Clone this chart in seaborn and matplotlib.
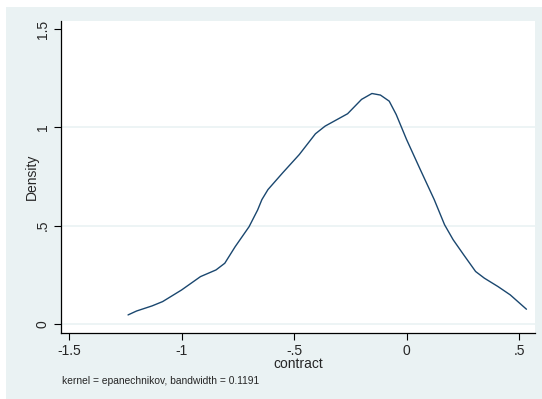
import matplotlib
matplotlib.use("Agg")
import matplotlib.pyplot as plt
import pandas as pd
import seaborn as sns
from matplotlib.patches import Rectangle

# kernel density of "contract"
contract = [-1.238, -1.2, -1.131, -1.084, -1.0, -0.916, -0.847, -0.808, -0.762,
            -0.70, -0.662, -0.643, -0.616, -0.55, -0.477, -0.405, -0.362, -0.262,
            -0.2, -0.154, -0.116, -0.077, -0.046, 0.0, 0.061, 0.123, 0.169,
            0.207, 0.254, 0.307, 0.346, 0.407, 0.461, 0.533]
density = [0.046, 0.066, 0.092, 0.114, 0.173, 0.241, 0.275, 0.309, 0.393,
           0.495, 0.58, 0.633, 0.684, 0.77, 0.862, 0.968, 1.007, 1.07,
           1.143, 1.173, 1.165, 1.134, 1.066, 0.939, 0.786, 0.633, 0.505,
           0.429, 0.352, 0.267, 0.233, 0.19, 0.148, 0.075]

xticks = [-1.5, -1, -0.5, 0, 0.5]
xticklabels = ["-1.5", "-1", "-.5", "0", ".5"]
yticks = [0, 0.5, 1, 1.5]
yticklabels = ["0", ".5", "1", "1.5"]
gridlines = [0, 0.5, 1]
note = "kernel = epanechnikov, bandwidth = 0.1191"

df = pd.DataFrame({"contract": contract, "Density": density})

sns.set_style("white")
plt.rcParams["font.family"] = ["Liberation Sans", "DejaVu Sans"]

W, H = 542, 399
fig = plt.figure(figsize=(W / 100, H / 100), dpi=100, facecolor="white")
bg = "#eaf2f3"
fig.add_artist(Rectangle((6 / W, 0), 1, (H - 7) / H, transform=fig.transFigure,
                         facecolor=bg, edgecolor="none", zorder=-10))

ax = fig.add_axes([61 / W, (H - 333) / H, (535 - 61) / W, (333 - 21) / H])
ax.set_zorder(5)
ax.set_facecolor("white")
for g in gridlines:
    ax.axhline(g, color=bg, lw=1.2, zorder=0)

sns.lineplot(data=df, x="contract", y="Density", ax=ax, color="#1a476f", lw=1.0,
             estimator=None, sort=False)

ax.set_xlim(-1.536, 0.571)
ax.set_ylim(-0.046, 1.542)
ax.set_xticks(xticks)
ax.set_xticklabels(xticklabels)
ax.set_yticks(yticks)
ax.set_yticklabels(yticklabels, rotation=90, va="center")
ax.tick_params(axis="both", direction="out", length=5, width=0.8, color="black",
               labelsize=10, pad=3, bottom=True, left=True)

for s in ["top", "right"]:
    ax.spines[s].set_visible(False)
for s in ["left", "bottom"]:
    ax.spines[s].set_color("black")
    ax.spines[s].set_linewidth(0.9)

ax.set_xlabel("contract", fontsize=10, labelpad=-1)
ax.set_ylabel("Density", fontsize=10, labelpad=-2)

fig.text(62 / W, 1 - 381 / H, note, fontsize=7.4, va="center", ha="left", zorder=10)

fig.savefig("out.png", dpi=100, facecolor="white")
